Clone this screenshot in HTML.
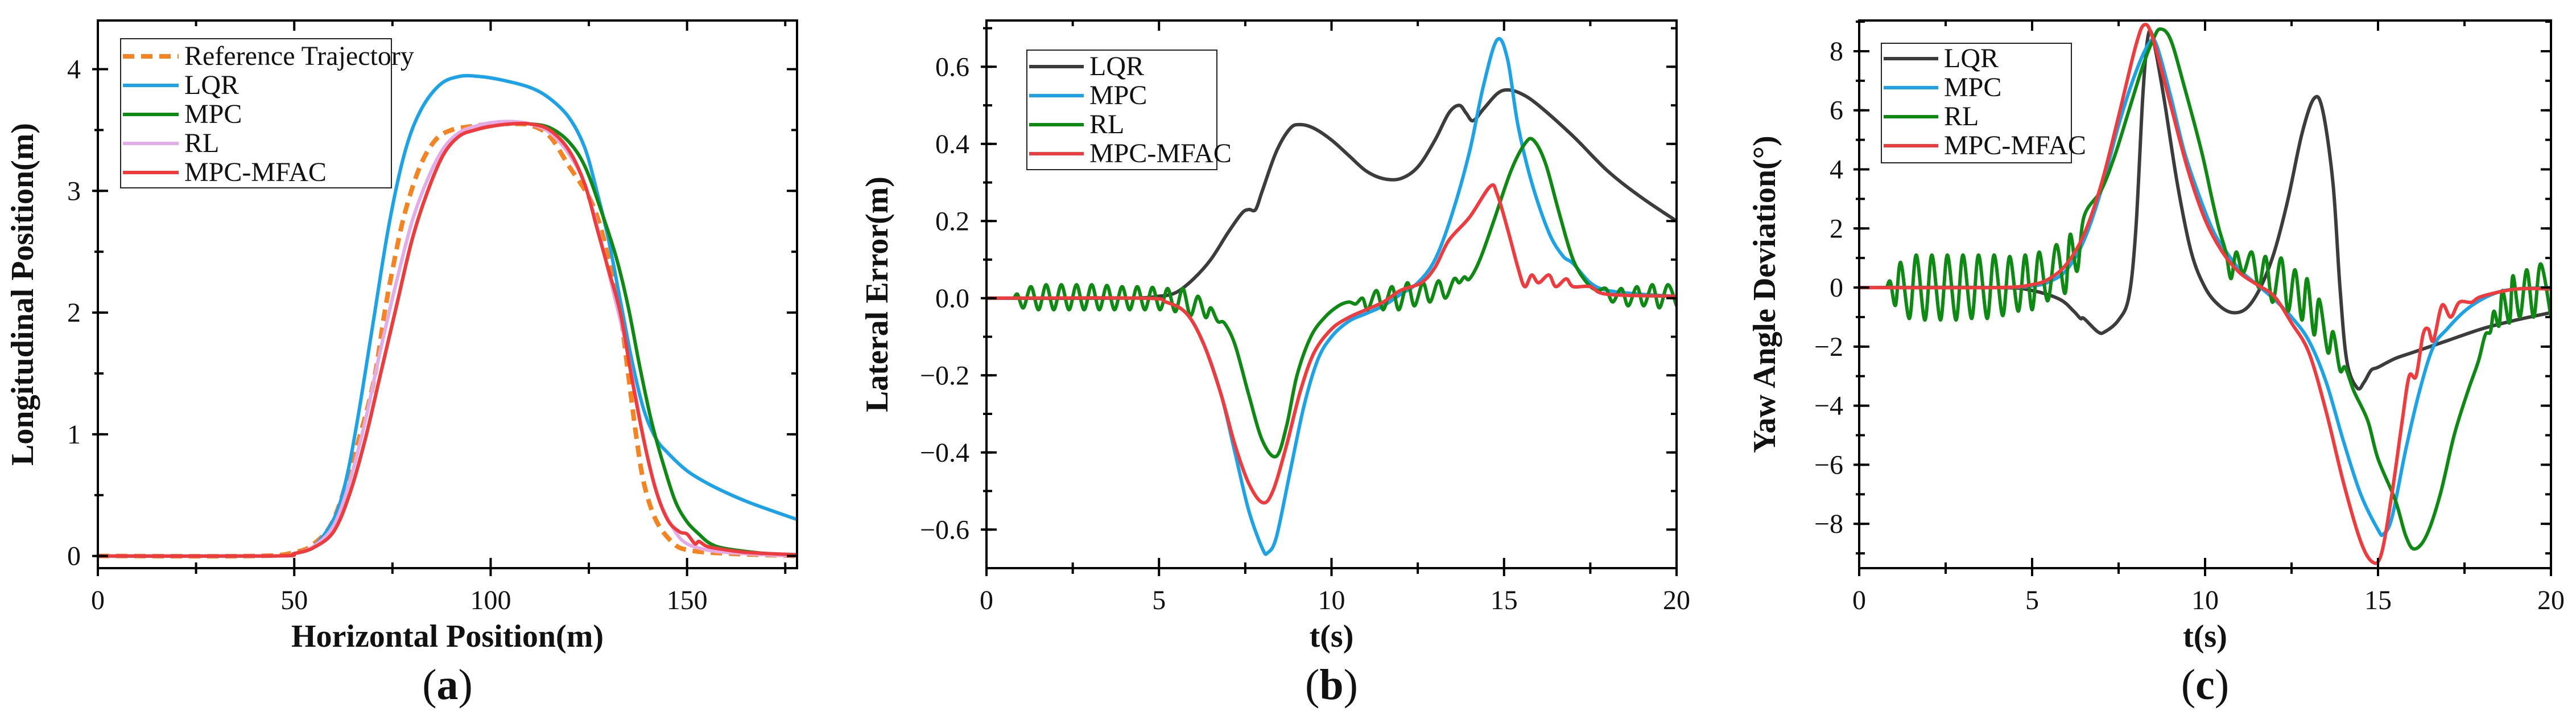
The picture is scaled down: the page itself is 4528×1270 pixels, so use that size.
<!DOCTYPE html>
<html><head><meta charset="utf-8"><style>
html,body{margin:0;padding:0;background:#fff;}
svg{display:block;}
text{font-family:"Liberation Serif",serif;fill:#111;}
</style></head><body>
<svg id="fig" width="4528" height="1270" viewBox="0 0 4528 1270" xmlns="http://www.w3.org/2000/svg" font-family="Liberation Serif, serif"></svg>
<script>
// ---------- Panel (a) data ----------
const aRefX=[0,40,50,55,60,65,70,73,75,78,82,86,90,95,100,105,110,115,120,125,128,131,133,135,137,139,142,146,150,160,178];
const aRefY=[0,0,0.03,0.1,0.3,0.8,1.4,2.0,2.35,2.8,3.2,3.42,3.5,3.53,3.55,3.55,3.54,3.45,3.2,2.95,2.7,2.3,2.0,1.5,1.0,0.6,0.3,0.12,0.05,0.02,0];
const aLqrX=[0,45,50,55,60,63,66,70,74,78,82,87,92,97,103,110,115,120,124,127,130,133,136,139,142,145,150,155,160,165,170,178];
const aLqrY=[0,0,0.02,0.08,0.3,0.6,1.1,1.9,2.7,3.3,3.65,3.87,3.94,3.94,3.91,3.85,3.76,3.6,3.35,3.0,2.6,2.1,1.6,1.2,0.97,0.85,0.7,0.6,0.52,0.45,0.39,0.3];
const aMpcX=[0,45,50,55,60,64,68,72,76,80,84,88,92,96,100,105,110,115,120,124,128,132,135,138,141,144,147,150,153,156,160,170,178];
const aMpcY=[0,0,0.02,0.07,0.2,0.5,0.95,1.5,2.05,2.6,3.0,3.3,3.45,3.5,3.53,3.55,3.55,3.52,3.4,3.2,2.85,2.45,2.05,1.55,1.1,0.75,0.45,0.28,0.18,0.1,0.06,0.02,0.01];
const aRlX=[0,45,50,55,60,64,68,72,76,80,84,88,92,96,100,105,110,115,120,124,128,131,134,137,140,143,147,150,155,160,170,178];
const aRlY=[0,0,0.02,0.08,0.25,0.6,1.1,1.7,2.25,2.75,3.1,3.35,3.48,3.53,3.56,3.57,3.55,3.48,3.3,3.05,2.6,2.2,1.8,1.3,0.8,0.45,0.2,0.1,0.05,0.03,0.01,0];
const aMfacX=[0,45,50,55,60,64,68,72,76,80,84,88,92,96,100,105,110,115,120,124,127,130,133,136,139,142,145,148,150,152,153,155,158,165,178];
const aMfacY=[0,0,0.02,0.07,0.2,0.5,0.95,1.5,2.05,2.6,3.0,3.3,3.45,3.5,3.53,3.55,3.55,3.5,3.33,3.05,2.7,2.35,2.0,1.45,0.95,0.55,0.3,0.2,0.18,0.1,0.12,0.08,0.06,0.03,0.01];
const aXTicks=[0,50,100,150];
const aYTicks=[0,1,2,3,4];

// ---------- Panel (b) data ----------
const bLqrT=[0,4,5,5.5,6,6.5,7,7.4,7.6,7.8,8,8.4,8.8,9.1,9.5,10,10.5,11,11.5,12,12.5,13,13.4,13.7,13.9,14.1,14.4,14.8,15.1,15.5,16,17,18,19,20];
const bLqrV=[0,0,0.005,0.015,0.05,0.1,0.17,0.22,0.23,0.23,0.28,0.38,0.44,0.45,0.44,0.41,0.37,0.33,0.31,0.31,0.34,0.41,0.48,0.5,0.48,0.46,0.49,0.53,0.54,0.53,0.5,0.42,0.33,0.26,0.2];
const bMpcT=[0,4.5,5.2,5.8,6.3,6.8,7.2,7.6,8,8.15,8.4,8.8,9.2,9.6,10,10.5,11,11.5,12,12.5,13,13.5,14,14.4,14.8,15.1,15.4,15.8,16.3,16.7,17,17.5,18,19,20];
const bMpcV=[0,0,-0.01,-0.04,-0.12,-0.25,-0.4,-0.55,-0.65,-0.66,-0.62,-0.45,-0.28,-0.16,-0.1,-0.06,-0.04,-0.02,0.01,0.04,0.1,0.22,0.38,0.55,0.67,0.62,0.45,0.3,0.17,0.11,0.09,0.04,0.02,0.01,0.005];
const bRlT=[0.8,0.9,1.07,1.29,1.51,1.73,1.95,2.17,2.39,2.61,2.83,3.05,3.27,3.49,3.71,3.93,4.15,4.37,4.59,4.81,5.03,5.25,5.47,5.69,5.91,6.13,6.35,6.5,6.7,6.9,7.2,7.6,8.0,8.4,8.7,9.0,9.4,9.8,10.2,10.5,10.7,10.9,11.05,11.3,11.5,11.75,11.95,12.2,12.4,12.65,12.85,13.1,13.3,13.55,13.7,13.85,14.0,14.3,14.7,15.2,15.6,15.85,16.2,16.6,17.0,17.4,17.7,17.95,18.15,18.4,18.6,18.85,19.05,19.3,19.5,19.75,20];
const bRlV=[0,0.01,-0.025,0.03,-0.03,0.035,-0.03,0.035,-0.03,0.035,-0.03,0.035,-0.03,0.033,-0.03,0.03,-0.03,0.03,-0.03,0.028,-0.03,0.025,-0.035,0.025,-0.045,0.005,-0.05,-0.025,-0.06,-0.065,-0.12,-0.25,-0.37,-0.41,-0.33,-0.2,-0.1,-0.05,-0.02,-0.01,-0.015,0,-0.03,0.02,-0.03,0.03,-0.03,0.04,-0.02,0.04,-0.01,0.045,0,0.05,0.04,0.055,0.05,0.1,0.2,0.33,0.4,0.41,0.35,0.22,0.1,0.04,0.02,0.025,-0.01,0.025,-0.02,0.03,-0.02,0.035,-0.025,0.035,-0.02];
const bMfacT=[0,4.5,5.2,5.8,6.3,6.8,7.2,7.6,8,8.3,8.7,9.1,9.5,10,10.5,11,11.5,12,12.6,13,13.4,14,14.6,14.8,15.1,15.4,15.6,15.8,16,16.3,16.5,16.8,17,17.5,18,20];
const bMfacV=[0,0,-0.01,-0.04,-0.12,-0.25,-0.38,-0.48,-0.53,-0.5,-0.38,-0.24,-0.14,-0.08,-0.05,-0.03,-0.01,0.02,0.04,0.08,0.15,0.21,0.29,0.27,0.18,0.08,0.03,0.06,0.04,0.06,0.03,0.05,0.03,0.03,0.01,0.005];
const bXTicks=[0,5,10,15,20];
const bYTicks=[-0.6,-0.4,-0.2,0,0.2,0.4,0.6];
const bYLabels=["\u22120.6","\u22120.4","\u22120.2","0.0","0.2","0.4","0.6"];

// ---------- Panel (c) data ----------
const cLqrT=[0,4,5,5.8,6.2,6.4,6.5,6.9,7.1,7.5,7.8,8.0,8.2,8.35,8.5,8.8,9.2,9.6,10,10.4,10.8,11.2,11.6,12,12.4,12.8,13.15,13.4,13.7,13.9,14.1,14.4,14.6,14.8,15,15.5,16,17,18,19,20];
const cLqrV=[0,0,-0.1,-0.4,-0.8,-1.05,-1.05,-1.5,-1.5,-1.1,-0.3,2.0,6.5,8.5,8.4,6.5,3.5,1.2,0,-0.6,-0.85,-0.7,0,1.2,3.0,5.2,6.4,6.0,3.5,0,-2.5,-3.4,-3.2,-2.8,-2.7,-2.4,-2.2,-1.8,-1.4,-1.1,-0.85];
const cMpcT=[0,4,5,5.5,6,6.5,7,7.5,8,8.4,8.6,9,9.4,9.8,10.2,10.5,11,11.5,12,12.5,13,13.5,14,14.5,15,15.15,15.4,15.8,16.2,16.6,17,17.5,18,18.5,19,20];
const cMpcV=[0,0,0.05,0.2,0.6,1.6,3.3,5.5,7.3,8.3,8.2,6.5,4.6,3.2,2.0,1.4,0.6,0.1,-0.4,-1.0,-1.8,-3.2,-5.2,-7.0,-8.2,-8.35,-7.8,-5.5,-3.5,-2.0,-1.4,-0.8,-0.4,-0.15,-0.05,0];
const cRlT=[0.8,0.9,1.05,1.2,1.45,1.65,1.9,2.1,2.35,2.55,2.8,3.0,3.25,3.45,3.7,3.9,4.15,4.35,4.6,4.8,5.0,5.2,5.45,5.7,5.95,6.1,6.3,6.5,7.0,7.4,7.8,8.2,8.5,8.7,9.0,9.4,9.9,10.2,10.4,10.6,10.75,10.9,11.1,11.35,11.55,11.75,11.95,12.2,12.4,12.6,12.8,12.95,13.15,13.3,13.55,13.7,13.9,14.05,14.3,14.7,15.0,15.5,15.8,16.05,16.4,16.8,17.2,17.6,17.9,18.1,18.25,18.35,18.5,18.6,18.8,18.9,19.1,19.3,19.5,19.7,20];
const cRlV=[0,0.2,-0.6,0.85,-1.05,1.1,-1.1,1.1,-1.1,1.1,-1.1,1.1,-1.05,1.1,-1.05,1.1,-0.95,1.05,-0.8,1.1,-0.75,1.2,-0.45,1.45,-0.2,1.8,0.55,2.4,3.3,4.5,6.0,7.5,8.4,8.75,8.4,6.8,4.6,3.0,2.0,1.2,0.3,1.2,0.5,1.2,0,1.05,-0.5,1.0,-0.8,0.6,-1.1,0.3,-1.6,-0.4,-2.2,-1.5,-2.8,-2.7,-3.5,-4.5,-5.8,-7.2,-8.4,-8.85,-8.4,-7.0,-5.0,-3.5,-2.5,-1.6,-1.5,-0.8,-1.3,-0.1,-1.2,0.4,-1.0,0.6,-1.0,0.8,-1.0];
const cMfacT=[0,4,5,5.5,6,6.5,7,7.5,8,8.25,8.5,9,9.5,10,10.5,11,11.5,12,12.5,13,13.5,14,14.5,14.85,15.1,15.4,15.7,15.9,16.1,16.3,16.45,16.6,16.85,17.1,17.35,17.7,18,19,20];
const cMfacV=[0,0,0.1,0.3,0.8,1.8,3.5,5.8,8.2,8.9,8.4,6.2,4.0,2.3,1.2,0.5,0.1,-0.3,-1.2,-2.2,-4.2,-6.6,-8.6,-9.3,-9.0,-7.0,-4.5,-3.0,-3.0,-1.6,-1.4,-1.8,-0.6,-1.0,-0.5,-0.5,-0.3,-0.05,-0.05];
const cXTicks=[0,5,10,15,20];
const cYTicks=[-8,-6,-4,-2,0,2,4,6,8];
const cYLabels=["\u22128","\u22126","\u22124","\u22122","0","2","4","6","8"];

const C={ref:"#f7831f",blue:"#1aa3e8",green:"#0c8a12",pink:"#e3abe8",red:"#f23a3d",black:"#3c3c3c"};
const NS="http://www.w3.org/2000/svg";
const svg=document.getElementById('fig');
function mk(tag,attrs,parent){const e=document.createElementNS(NS,tag);for(const k in attrs)e.setAttribute(k,attrs[k]);if(tag==='text')e.setAttribute('font-family','Liberation Serif, serif');(parent||svg).appendChild(e);return e;}
function smoothPath(xs,ys,sx,sy){
  const p=xs.map((x,i)=>[sx(x),sy(ys[i])]);
  let d="M"+p[0][0].toFixed(1)+","+p[0][1].toFixed(1);
  for(let i=0;i<p.length-1;i++){
    const p0=p[i-1]||p[i],p1=p[i],p2=p[i+1],p3=p[i+2]||p2;
    const c1=[p1[0]+(p2[0]-p0[0])/6,p1[1]+(p2[1]-p0[1])/6];
    const c2=[p2[0]-(p3[0]-p1[0])/6,p2[1]-(p3[1]-p1[1])/6];
    d+=" C"+c1[0].toFixed(1)+","+c1[1].toFixed(1)+" "+c2[0].toFixed(1)+","+c2[1].toFixed(1)+" "+p2[0].toFixed(1)+","+p2[1].toFixed(1);
  }
  return d;
}
function panel(cfg){
  const g=mk('g',{});
  
  
  const sx=v=>cfg.L+(v-cfg.x0)/(cfg.x1-cfg.x0)*(cfg.R-cfg.L);
  const sy=v=>cfg.B-(v-cfg.y0)/(cfg.y1-cfg.y0)*(cfg.B-cfg.T);
  const clipId=cfg.name+"-clip";
  const cp=mk('clipPath',{id:clipId},g);
  mk('rect',{x:cfg.L,y:cfg.T,width:cfg.R-cfg.L,height:cfg.B-cfg.T},cp);
  cfg.series.forEach(s=>{
    const path=mk('path',{d:smoothPath(s.x,s.y,sx,sy),fill:'none',stroke:s.color,'stroke-width':s.w||6,'stroke-linejoin':'round','clip-path':'url(#'+clipId+')'},g);
    if(s.dash)path.setAttribute('stroke-dasharray',s.dash);
    
    
  });
  const fr=mk('rect',{x:cfg.L,y:cfg.T,width:cfg.R-cfg.L,height:cfg.B-cfg.T,fill:'none',stroke:'#000','stroke-width':4},g);
  
  
  const xt=mk('g',{},g);
  
  
  cfg.xTicks.forEach((v,i)=>{
    const x=sx(v);
    mk('line',{x1:x,y1:cfg.B+14,x2:x,y2:cfg.B-18,stroke:'#000','stroke-width':4},xt);
    mk('line',{x1:x,y1:cfg.T,x2:x,y2:cfg.T+18,stroke:'#000','stroke-width':4},xt);
    const t=mk('text',{x:x,y:cfg.B+72,'font-size':48,'text-anchor':'middle'},xt);
    t.textContent=cfg.xLabels?cfg.xLabels[i]:String(v);
    
    
    const m=v+cfg.xMinor;
    if(m<cfg.x1){const xm=sx(m);
      mk('line',{x1:xm,y1:cfg.B+10,x2:xm,y2:cfg.B-10,stroke:'#000','stroke-width':4},xt);
      mk('line',{x1:xm,y1:cfg.T,x2:xm,y2:cfg.T+10,stroke:'#000','stroke-width':4},xt);}
  });
  const yt=mk('g',{},g);
  
  
  cfg.yTicks.forEach((v,i)=>{
    const y=sy(v);
    mk('line',{x1:cfg.L-10,y1:y,x2:cfg.L+18,y2:y,stroke:'#000','stroke-width':4},yt);
    mk('line',{x1:cfg.R-18,y1:y,x2:cfg.R,y2:y,stroke:'#000','stroke-width':4},yt);
    const t=mk('text',{x:cfg.L-cfg.yGap,y:y+16,'font-size':48,'text-anchor':'end'},yt);
    t.textContent=cfg.yLabels?cfg.yLabels[i]:String(v);
    
    
  });
  for(let m=cfg.yTicks[0]-cfg.yMinor;m<=cfg.y1;m+=cfg.yMinor){
    if(m<=cfg.y0)continue;
    const y=sy(m);
    mk('line',{x1:cfg.L-6,y1:y,x2:cfg.L+10,y2:y,stroke:'#000','stroke-width':4},yt);
    mk('line',{x1:cfg.R-10,y1:y,x2:cfg.R,y2:y,stroke:'#000','stroke-width':4},yt);
  }
  const xtitle=mk('text',{x:(cfg.L+cfg.R)/2,y:1136,'font-size':56,'font-weight':'bold','text-anchor':'middle'},g);
  xtitle.textContent=cfg.xTitle;
  
  
  const ytitle=mk('text',{x:0,y:0,'font-size':56,'font-weight':'bold','text-anchor':'middle',transform:'translate('+(cfg.yTitleX)+','+((cfg.T+cfg.B)/2)+') rotate(-90)'},g);
  ytitle.textContent=cfg.yTitle;
  
  
  const cap=mk('text',{x:(cfg.L+cfg.R)/2,y:1228,'font-size':76,'text-anchor':'middle'},g);
  cap.innerHTML='(<tspan font-weight="bold">'+cfg.cap+'</tspan>)';
  
  
  const lg=mk('g',{},g);
  
  
  const Lg=cfg.legend;
  mk('rect',{x:Lg.x,y:Lg.y,width:Lg.w,height:Lg.h,fill:'#fff',stroke:'#222','stroke-width':2},lg);
  cfg.series.forEach((s,i)=>{
    const cy=Lg.y+Lg.first+i*Lg.step;
    const e=mk('g',{},lg);
    
    
    const ln=mk('line',{x1:Lg.x+4,y1:cy,x2:Lg.x+Lg.lineW,y2:cy,stroke:s.color,'stroke-width':s.w||6},e);
    if(s.dash)ln.setAttribute('stroke-dasharray',s.dash);
    const t=mk('text',{x:Lg.x+Lg.lineW+10,y:cy+15,'font-size':48},e);
    t.textContent=s.label;
  });
}
panel({name:'panel-a-trajectory',L:172,R:1401,T:36,B:998,x0:0,x1:178,y0:-0.1,y1:4.4,
  xTicks:aXTicks,xMinor:25,yTicks:aYTicks,yMinor:0.5,yGap:30,yTitleX:58,
  xTitle:'Horizontal Position(m)',yTitle:'Longitudinal Position(m)',cap:'a',
  legend:{x:212,y:68,w:476,h:262,first:31,step:51,lineW:102},
  series:[
    {id:'reference-trajectory',label:'Reference Trajectory',x:aRefX,y:aRefY,color:C.ref,dash:'20 12',w:8},
    {id:'lqr',label:'LQR',x:aLqrX,y:aLqrY,color:C.blue},
    {id:'mpc',label:'MPC',x:aMpcX,y:aMpcY,color:C.green},
    {id:'rl',label:'RL',x:aRlX,y:aRlY,color:C.pink},
    {id:'mpc-mfac',label:'MPC-MFAC',x:aMfacX,y:aMfacY,color:C.red}]});
panel({name:'panel-b-lateral-error',L:1734,R:2947,T:36,B:998,x0:0,x1:20,y0:-0.7,y1:0.72,
  xTicks:bXTicks,xMinor:2.5,yTicks:bYTicks,yLabels:bYLabels,yMinor:0.1,yGap:30,yTitleX:1560,
  xTitle:'t(s)',yTitle:'Lateral Error(m)',cap:'b',
  legend:{x:1805,y:88,w:334,h:210,first:29,step:51,lineW:100},
  series:[
    {id:'lqr',label:'LQR',x:bLqrT,y:bLqrV,color:C.black},
    {id:'mpc',label:'MPC',x:bMpcT,y:bMpcV,color:C.blue},
    {id:'rl',label:'RL',x:bRlT,y:bRlV,color:C.green},
    {id:'mpc-mfac',label:'MPC-MFAC',x:bMfacT,y:bMfacV,color:C.red}]});
panel({name:'panel-c-yaw-deviation',L:3268,R:4484,T:36,B:998,x0:0,x1:20,y0:-9.5,y1:9.04,
  xTicks:cXTicks,xMinor:2.5,yTicks:cYTicks,yLabels:cYLabels,yMinor:1,yGap:28,yTitleX:3120,
  xTitle:'t(s)',yTitle:'Yaw Angle Deviation(\u00B0)',cap:'c',
  legend:{x:3307,y:76,w:334,h:210,first:27,step:51,lineW:100},
  series:[
    {id:'lqr',label:'LQR',x:cLqrT,y:cLqrV,color:C.black},
    {id:'mpc',label:'MPC',x:cMpcT,y:cMpcV,color:C.blue},
    {id:'rl',label:'RL',x:cRlT,y:cRlV,color:C.green},
    {id:'mpc-mfac',label:'MPC-MFAC',x:cMfacT,y:cMfacV,color:C.red}]});
</script>
</body></html>
